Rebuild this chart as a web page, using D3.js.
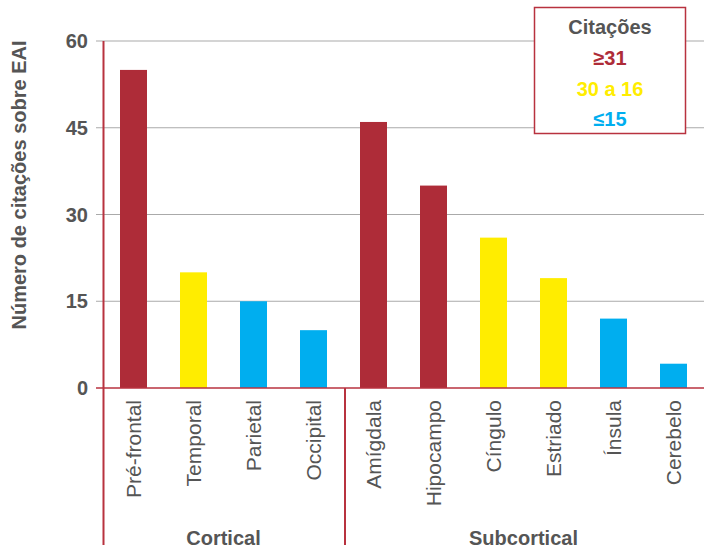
<!DOCTYPE html>
<html>
<head>
<meta charset="utf-8">
<script src="https://cdn.jsdelivr.net/npm/d3@7"></script>
<style>
  body { margin: 0; background: #fff; }
  text { font-family: "Liberation Sans", Arial, sans-serif; fill: #555; }
</style>
</head>
<body>
<svg id="chart" width="704" height="549"></svg>
<script>
// data
var regions = ["Pré-frontal", "Temporal", "Parietal", "Occipital", "Amígdala",
               "Hipocampo", "Cíngulo", "Estriado", "Ínsula", "Cerebelo"];
var citations = [55, 20, 15, 10, 46, 35, 26, 19, 12, 4.2];
var groups = ["Cortical", "Subcortical"];
var groupOf = ["Cortical", "Cortical", "Cortical", "Cortical", "Subcortical",
               "Subcortical", "Subcortical", "Subcortical", "Subcortical", "Subcortical"];
var yTicks = [0, 15, 30, 45, 60];
var legendLabels = ["≥31", "30 a 16", "≤15"];

var RED = "#ae2c38", YELLOW = "#ffed00", BLUE = "#00aeef";
var AXIS = "#b8323f";

function colorFor(v) {
    if (v >= 31) return RED;
    if (v >= 16) return YELLOW;
    return BLUE;
}

var svg = d3.select("#chart");
var mLeft = 103.5, mRight = 703.5, mTop = 41, mBottom = 388;

var x = d3.scaleBand().domain(regions).range([mLeft, mRight]).paddingInner(0.55).paddingOuter(0.275);
var y = d3.scaleLinear().domain([0, 60]).range([mBottom, mTop]);

// grid lines
svg.append("g").selectAll("line").data(yTicks.filter(function(d) { return d > 0; }))
    .enter().append("line")
    .attr("x1", 96).attr("x2", 704)
    .attr("y1", function(d) { return y(d); }).attr("y2", function(d) { return y(d); })
    .attr("stroke", "#aaa").attr("stroke-width", 1.2);

// y tick labels
svg.append("g").selectAll("text").data(yTicks)
    .enter().append("text")
    .attr("x", 88).attr("y", function(d) { return y(d); })
    .attr("dy", "0.35em").attr("text-anchor", "end")
    .style("font-size", "20px").style("font-weight", "bold")
    .text(function(d) { return d; });

// bars
svg.append("g").selectAll("rect").data(citations)
    .enter().append("rect")
    .attr("x", function(d, i) { return x(regions[i]); })
    .attr("width", x.bandwidth())
    .attr("y", function(d) { return y(d); })
    .attr("height", function(d) { return mBottom - y(d); })
    .attr("fill", function(d) { return colorFor(d); });

// axes lines
svg.append("line").attr("x1", 96).attr("x2", 704).attr("y1", mBottom).attr("y2", mBottom)
    .attr("stroke", AXIS).attr("stroke-width", 1.5);
svg.append("line").attr("x1", mLeft).attr("x2", mLeft).attr("y1", mTop).attr("y2", 545)
    .attr("stroke", AXIS).attr("stroke-width", 2);

// group divider
var step = x.step();
var firstSub = groupOf.indexOf("Subcortical");
var divX = x(regions[firstSub]) - (step - x.bandwidth()) / 2 + 1.5;
svg.append("line").attr("x1", divX).attr("x2", divX).attr("y1", mBottom).attr("y2", 545)
    .attr("stroke", AXIS).attr("stroke-width", 2);

// category labels
svg.append("g").selectAll("text").data(regions)
    .enter().append("text")
    .attr("transform", function(d) {
        return "translate(" + (x(d) + x.bandwidth() / 2) + "," + 400 + ") rotate(-90)";
    })
    .attr("dy", "0.35em").attr("text-anchor", "end")
    .style("font-size", "21px")
    .text(function(d) { return d; });

// group labels
groups.forEach(function(g) {
    var idx = regions.filter(function(r, i) { return groupOf[i] === g; });
    var x0 = x(idx[0]), x1 = x(idx[idx.length - 1]) + x.bandwidth();
    svg.append("text")
        .attr("x", (x0 + x1) / 2).attr("y", 545)
        .attr("text-anchor", "middle")
        .style("font-size", "20px").style("font-weight", "bold")
        .text(g);
});

// y axis title
svg.append("text")
    .attr("transform", "translate(19," + 185 + ") rotate(-90)")
    .attr("text-anchor", "middle").attr("dy", "0.35em")
    .style("font-size", "20px").style("font-weight", "bold")
    .text("Número de citações sobre EAI");

// legend
var lg = svg.append("g");
lg.append("rect").attr("x", 534.5).attr("y", 7.5).attr("width", 151).attr("height", 126)
    .attr("fill", "#fff").attr("stroke", AXIS).attr("stroke-width", 1.5);
lg.append("text").attr("x", 610).attr("y", 34).attr("text-anchor", "middle")
    .style("font-size", "20px").style("font-weight", "bold").text("Citações");
var legendColors = [RED, YELLOW, BLUE];
lg.selectAll("text.item").data(legendLabels).enter().append("text")
    .attr("class", "item")
    .attr("x", 610).attr("y", function(d, i) { return 65 + i * 30.5; })
    .attr("text-anchor", "middle")
    .style("font-size", "20px").style("font-weight", "bold")
    .style("fill", function(d, i) { return legendColors[i]; })
    .text(function(d) { return d; });
</script>
</body>
</html>
